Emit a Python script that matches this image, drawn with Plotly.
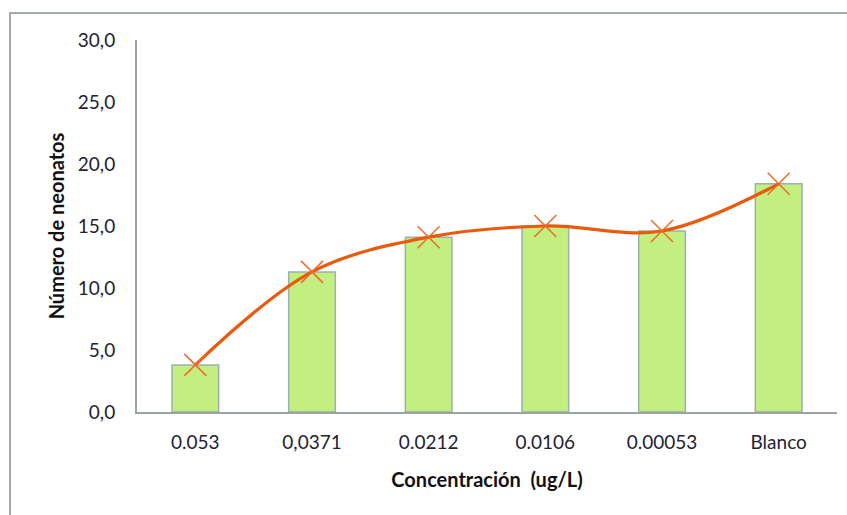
import plotly.graph_objects as go

# Neonates per concentration group
concentraciones = ["0.053", "0,0371", "0.0212", "0.0106", "0.00053", "Blanco"]
neonatos = [3.8, 11.3, 14.1, 15.0, 14.6, 18.4]
y_ticks = [0, 5, 10, 15, 20, 25, 30]

W, H = 847, 515
L, R, T, B = 137, 10, 40, 103
pw, ph = W - L - R, H - T - B

def px(x):
    return (x - L) / pw

def py(y):
    return (H - B - y) / ph

fig = go.Figure()

fig.add_trace(go.Bar(
    x=concentraciones,
    y=neonatos,
    width=0.4,
    marker=dict(color="#C3EF80", line=dict(color="#9DB0AE", width=1.5)),
    showlegend=False,
    hoverinfo="skip",
))

fig.add_trace(go.Scatter(
    x=concentraciones,
    y=neonatos,
    mode="lines+markers",
    line=dict(color="#EA5A0C", width=3.2, shape="spline", smoothing=1.0),
    marker=dict(symbol="x-thin", size=22,
                line=dict(color="#EE6A2A", width=1.5)),
    showlegend=False,
))

# Chart-area frame (left and top edges)
fig.add_shape(
    type="path",
    xref="paper", yref="paper",
    path=f"M {px(10)} {py(H + 5)} L {px(10)} {py(13)} L {px(W + 5)} {py(13)}",
    line=dict(color="#A3ADAB", width=2),
    layer="below",
)

fig.update_layout(
    width=W, height=H,
    margin=dict(l=L, r=R, t=T, b=B),
    paper_bgcolor="white",
    plot_bgcolor="white",
    separators=",.",
    bargap=0.6,
    font=dict(family="Lato, 'Open Sans', sans-serif", size=19, color="#222233"),
    xaxis=dict(
        type="category",
        showline=True, linecolor="#9AA5A3", linewidth=2,
        ticks="", showgrid=False,
        ticklabelstandoff=12,
        tickfont=dict(size=19, color="#222233"),
        title=dict(text="<b>Concentración  (ug/L)</b>", font=dict(size=20, color="#111111"),
                   standoff=21),
        range=[-0.5, 5.5],
    ),
    yaxis=dict(
        range=[0, 30],
        tickvals=y_ticks,
        tickformat=".1f",
        showline=True, linecolor="#9AA5A3", linewidth=2,
        ticks="", showgrid=False,
        ticklabelstandoff=16,
        tickfont=dict(size=19, color="#222233"),
        title=dict(text="<b>Número de neonatos</b>", font=dict(size=20, color="#111111"),
                   standoff=8),
        zeroline=False,
    ),
)

fig.write_html("out.html")
